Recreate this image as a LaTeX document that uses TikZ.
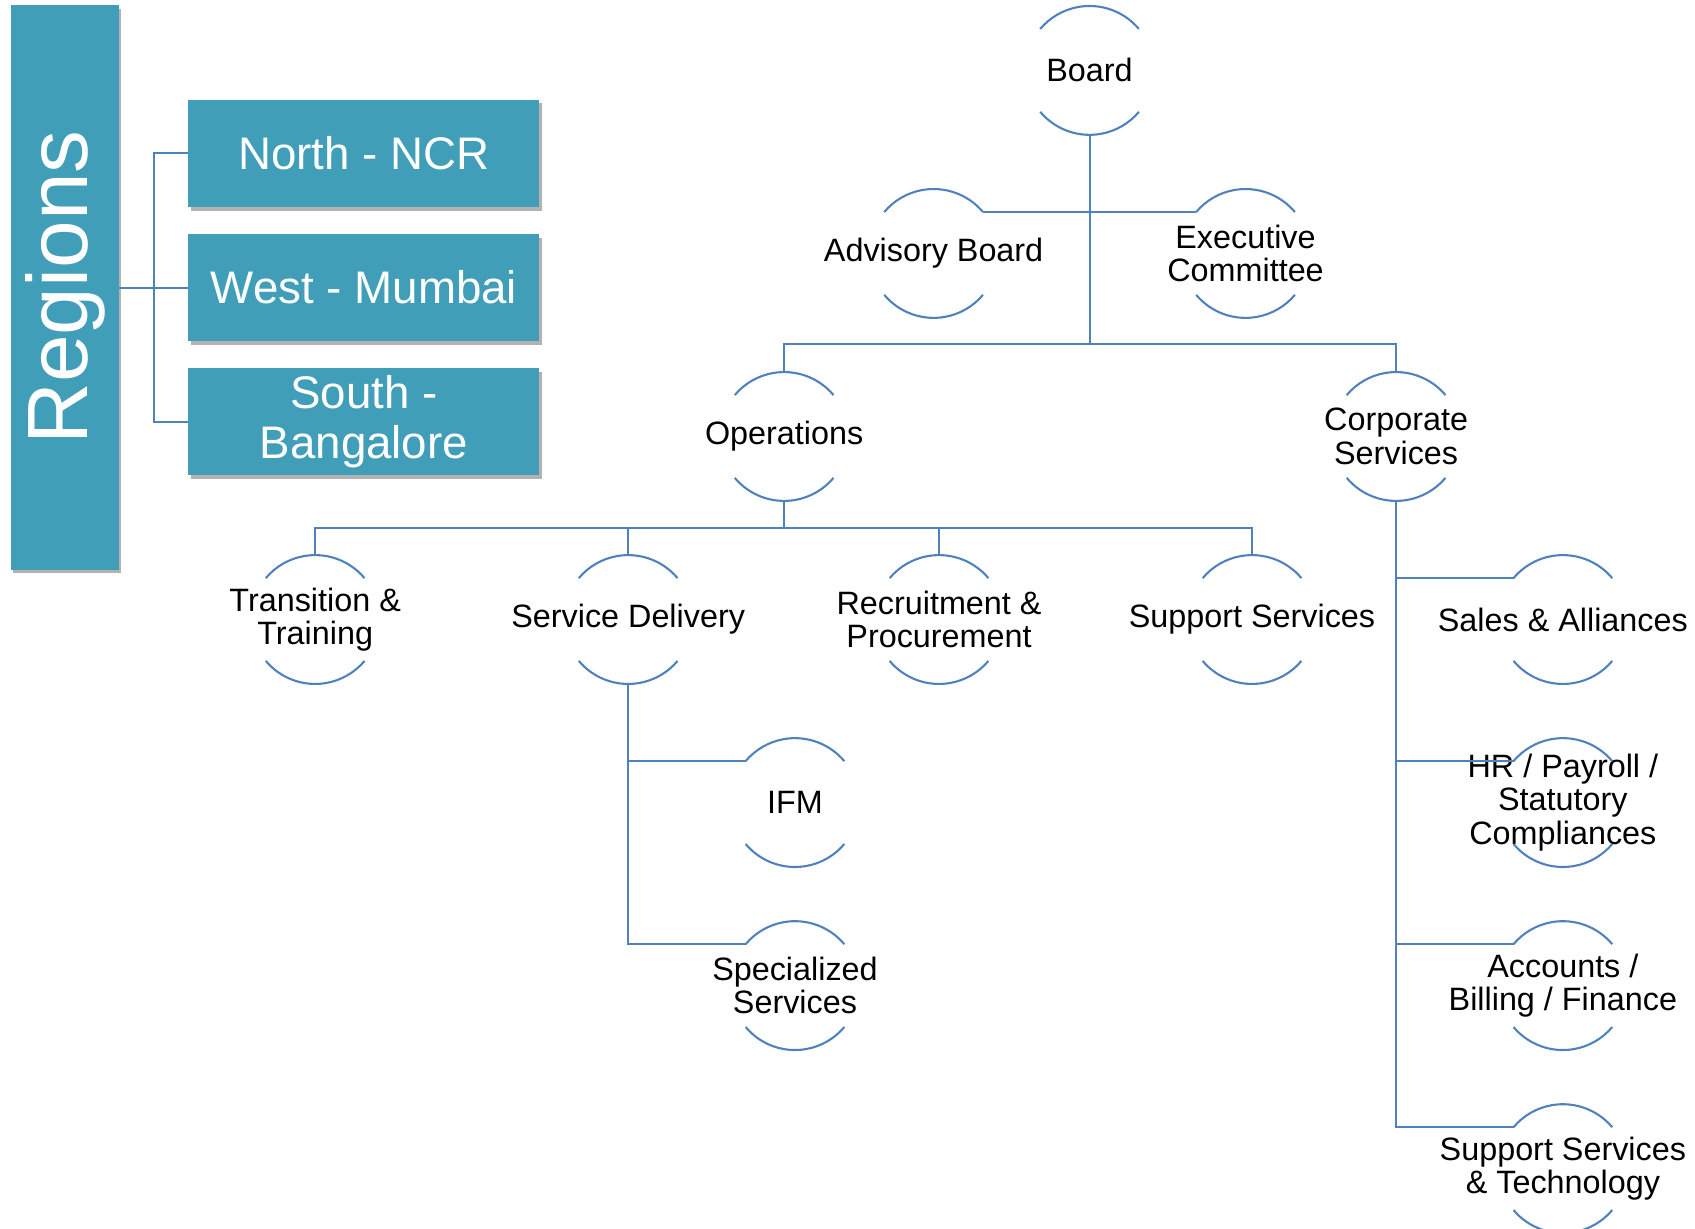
\documentclass[tikz,border=0pt]{standalone}
\usepackage{fontspec}
\setmainfont{Liberation Sans}
\usepackage{graphicx}
\usetikzlibrary{shadows}
\definecolor{tealone}{RGB}{65,158,185}
\definecolor{lineblue}{RGB}{79,129,189}
\newcommand\unode[3]{\node[unitc,label={[lbl]center:#3}] (#1) at (#2) {};}
\begin{document}
\begin{tikzpicture}[x=0.02cm,y=0.02cm,
  unitc/.style={circle,minimum size=2.38cm,inner sep=0pt,outer sep=0pt},
  lbl/.style={align=center,font=\fontsize{17}{17.6}\selectfont,text=black,inner sep=0pt},
  conn/.style={draw=lineblue,line width=1.1pt},
  arcl/.style={draw=lineblue,line width=1.1pt},
  shad/.style={drop shadow={shadow xshift=0.04cm,shadow yshift=-0.07cm,opacity=0.3,fill=black}},
  regbox/.style={fill=tealone,text=white,minimum width=6.48cm,minimum height=1.98cm,inner sep=0pt,outer sep=0pt,align=center,font=\fontsize{24}{26}\selectfont,shad}]
\useasboundingbox (0,0) rectangle (1565,-1134);
% Regions panel
\node[fill=tealone,text=white,minimum width=2cm,minimum height=10.42cm,inner sep=0pt,outer sep=0pt,shad,font=\fontsize{45}{50}\selectfont] (regbar) at (60,-265.5) {\rotatebox{90}{Regions}};
\node[regbox] (north) at (336,-141.5) {North - NCR};
\node[regbox] (west) at (336,-265.5) {West - Mumbai};
\node[regbox] (south) at (336,-389.5) {South -\\Bangalore};
\coordinate (rspine) at (142,-265.5);
\draw[conn] (regbar.east) -- (west.west);
\draw[conn] (north.west) -| (rspine) |- (south.west);
% hierarchy
\unode{board}{1006,-65}{Board}
\unode{adv}{862,-234}{Advisory Board}
\unode{exe}{1150,-234}{Executive\\Committee}
\unode{ops}{724,-403}{Operations}
\unode{cs}{1289,-403}{Corporate\\Services}
\unode{tt}{291,-572}{Transition \&\\Training}
\unode{sd}{580,-572}{Service Delivery}
\unode{rp}{867,-572}{Recruitment \&\\Procurement}
\unode{sup}{1156,-572}{Support Services}
\unode{sa}{1443,-572}{Sales \& Alliances}
\unode{ifm}{734,-741}{IFM}
\unode{hr}{1443,-741}{HR / Payroll /\\Statutory\\Compliances}
\unode{spec}{734,-910}{Specialized\\Services}
\unode{acc}{1443,-910}{Accounts /\\Billing / Finance}
\unode{sst}{1443,-1079}{Support Services\\\& Technology}
\foreach \n in {board,adv,exe,ops,cs,tt,sd,rp,sup,sa,ifm,hr,spec,acc,sst} {
  \draw[arcl] (\n.40) arc[start angle=40,end angle=140,radius=1.19cm];
  \draw[arcl] (\n.220) arc[start angle=220,end angle=320,radius=1.19cm];
}
% connectors
\draw[conn] (board.south) -- ++(0,-193) coordinate (b1);
\draw[conn] (adv.40) -- (exe.140);
\draw[conn] (ops.north) |- (b1) -| (cs.north);
\draw[conn] (ops.south) -- ++(0,-25) coordinate (o1);
\draw[conn] (tt.north) |- (o1) -| (sup.north);
\draw[conn] (sd.north) -- (sd.north |- o1);
\draw[conn] (rp.north) -- (rp.north |- o1);
\draw[conn] (sd.south) |- (ifm.140);
\draw[conn] (sd.south) |- (spec.140);
\draw[conn] (cs.south) |- (sa.140);
\draw[conn] (cs.south) |- (hr.140);
\draw[conn] (cs.south) |- (acc.140);
\draw[conn] (cs.south) |- (sst.140);
\end{tikzpicture}
\end{document}
